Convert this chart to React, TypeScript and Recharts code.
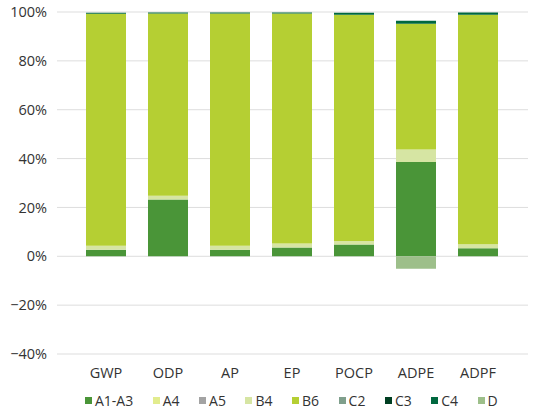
import React from 'react';
import {
    BarChart,
    Bar,
    XAxis,
    YAxis,
    CartesianGrid,
    Legend
} from 'recharts';

// Impact categories along the x axis
const categories = ['GWP', 'ODP', 'AP', 'EP', 'POCP', 'ADPE', 'ADPF'];

// Share per life cycle module, in percent
const a1a3 = [2.7, 23.2, 2.7, 3.6, 4.8, 38.6, 3.3];
const a4 = [0, 0, 0, 0, 0, 0, 0];
const a5 = [0, 0, 0, 0, 0, 0, 0];
const b4 = [1.6, 1.6, 1.6, 1.6, 1.5, 5.1, 1.6];
const b6 = [95.0, 74.6, 95.1, 94.2, 92.6, 51.5, 94.0];
const c2 = [0, 0, 0, 0, 0, 0, 0];
const c3 = [0, 0, 0, 0, 0, 0, 0];
const c4 = [0.4, 0.4, 0.4, 0.4, 0.8, 1.2, 0.9];
const d = [0, 0, 0, 0, 0, -5.1, 0];

const yTicks = [-40, -20, 0, 20, 40, 60, 80, 100];

const series = [
    { key: 'A1-A3', values: a1a3, color: '#4a9538' },
    { key: 'A4', values: a4, color: '#e2ec8e' },
    { key: 'A5', values: a5, color: '#a3a3a3' },
    { key: 'B4', values: b4, color: '#d6e5a3' },
    { key: 'B6', values: b6, color: '#b5cf33' },
    { key: 'C2', values: c2, color: '#7f9f8c' },
    { key: 'C3', values: c3, color: '#003f22' },
    { key: 'C4', values: c4, color: '#00683f' },
    { key: 'D', values: d, color: '#9dbf8a' }
];

const data = categories.map((name, i) => {
    const row: Record<string, number | string> = { name };
    series.forEach(s => {
        row[s.key] = s.values[i];
    });
    return row;
});

const FONT = '"Open Sans", sans-serif';

const renderLegend = () => (
    <div
        style={{
            display: 'flex',
            alignItems: 'center',
            height: 20,
            fontFamily: FONT,
            fontSize: 14,
            color: '#333',
            paddingLeft: 85
        }}
    >
        {series.map(s => (
            <div
                key={s.key}
                style={{ display: 'flex', alignItems: 'center', marginRight: 19.5 }}
            >
                <span
                    style={{
                        width: 7,
                        height: 7,
                        background: s.color,
                        display: 'inline-block',
                        marginRight: 3
                    }}
                />
                <span>{s.key}</span>
            </div>
        ))}
    </div>
);

export default function App() {
    return (
        <div style={{ position: 'absolute', left: 0, top: 0, background: '#fff' }}>
            <BarChart
                width={533}
                height={410}
                data={data}
                stackOffset="sign"
                barSize={40}
                margin={{ top: 12, right: 5, left: 0, bottom: 0 }}
            >
                <CartesianGrid vertical={false} stroke="#dddddd" />
                <XAxis
                    dataKey="name"
                    axisLine={false}
                    tickLine={false}
                    tickSize={0}
                    tickMargin={14}
                    height={36}
                    padding={{ left: 18, right: 19 }}
                    tick={{ fill: '#333', fontSize: 14.5, fontFamily: FONT }}
                />
                <YAxis
                    domain={[-40, 100]}
                    ticks={yTicks}
                    axisLine={false}
                    tickLine={false}
                    tickSize={0}
                    tickMargin={10}
                    width={57}
                    tickFormatter={(v) => `${v === 0 ? 0 : v < 0 ? '\u2212' + Math.abs(v) : v}%`}
                    tick={{ fill: '#333', fontSize: 14.5, fontFamily: FONT }}
                />
                {series.map(s => (
                    <Bar
                        key={s.key}
                        dataKey={s.key}
                        stackId="a"
                        fill={s.color}
                        isAnimationActive={false}
                    />
                ))}
                <Legend
                    verticalAlign="bottom"
                    height={20}
                    content={renderLegend}
                    wrapperStyle={{ left: 0, width: 533 }}
                />
            </BarChart>
        </div>
    );
}
